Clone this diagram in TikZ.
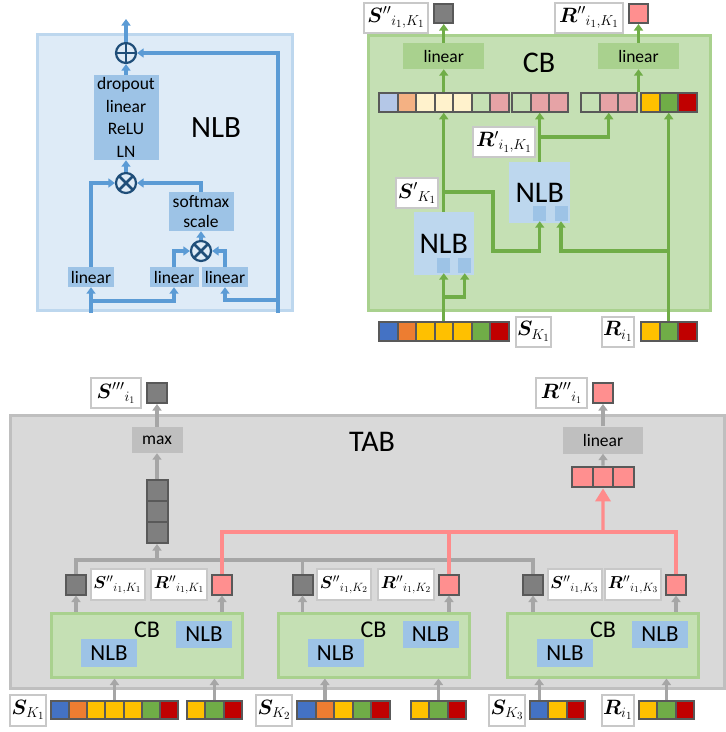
\documentclass[tikz,border=0pt]{standalone}
\usepackage{amsmath,bm}
\usepackage{fontspec}
\setmainfont{Carlito}
\usetikzlibrary{arrows.meta,positioning}
\definecolor{nlbFill}{RGB}{222,235,247}
\definecolor{nlbEdge}{RGB}{189,215,238}
\definecolor{blkBlue}{RGB}{157,195,230}
\definecolor{lnBlue}{RGB}{91,155,213}
\definecolor{opEdge}{RGB}{31,78,121}
\definecolor{cbFill}{RGB}{197,224,180}
\definecolor{cbEdge}{RGB}{169,209,142}
\definecolor{lnGreen}{RGB}{112,173,71}
\definecolor{tabFill}{RGB}{217,217,217}
\definecolor{tabEdge}{RGB}{191,191,191}
\definecolor{lnGray}{RGB}{166,166,166}
\definecolor{sqGray}{RGB}{127,127,127}
\definecolor{sqEdge}{RGB}{89,89,89}
\definecolor{lblEdge}{RGB}{200,200,200}
\definecolor{cPink}{RGB}{255,143,143}
\definecolor{lnPink}{RGB}{255,139,139}
\definecolor{pBlue}{RGB}{180,199,231}
\definecolor{pOrange}{RGB}{244,177,131}
\definecolor{pYellow}{RGB}{255,242,204}
\definecolor{pGreen}{RGB}{197,224,180}
\definecolor{pRed}{RGB}{230,163,166}
\definecolor{cBlue}{RGB}{68,114,196}
\definecolor{cOrange}{RGB}{237,125,49}
\definecolor{cYellow}{RGB}{255,192,0}
\definecolor{cGreen}{RGB}{112,173,71}
\definecolor{cRed}{RGB}{192,0,0}
\newcommand{\fsz}[1]{\fontsize{#1}{#1}\selectfont}
\tikzset{
  nlbpan/.style={draw=nlbEdge,fill=nlbFill,line width=3pt,inner sep=0},
  cbpan/.style={draw=cbEdge,fill=cbFill,line width=3pt,inner sep=0},
  tabpan/.style={draw=tabEdge,fill=tabFill,line width=3pt,inner sep=0},
  blk/.style={fill=blkBlue,inner sep=0,align=center,font=\fsz{17.5}},
  glin/.style={fill=cbEdge,inner sep=0,font=\fsz{17.5}},
  gbox/.style={fill=tabEdge,inner sep=0,font=\fsz{17.5}},
  nlbbig/.style={fill=nlbEdge,inner sep=0,font=\fsz{30}},
  nlbsm/.style={fill=blkBlue,inner sep=0,font=\fsz{23},minimum width=56,minimum height=28},
  nsq/.style={fill=blkBlue,inner sep=0,minimum width=13,minimum height=15},
  sq/.style={draw=sqEdge,line width=2pt,inner sep=0},
  gsq/.style={sq,fill=sqGray},
  psq/.style={sq,fill=cPink},
  lbl/.style={draw=lblEdge,fill=white,line width=2pt,inner xsep=1.5pt,inner ysep=1pt,
              minimum height=30},
  opc/.style={circle,draw=opEdge,line width=2.2pt,fill=nlbFill,minimum size=20,inner sep=0},
  plusop/.style={opc,path picture={\draw[opEdge,line width=2.8pt]
      (path picture bounding box.north) -- (path picture bounding box.south)
      (path picture bounding box.west) -- (path picture bounding box.east);}},
  timesop/.style={opc,path picture={\draw[opEdge,line width=2.8pt]
      (path picture bounding box.north west) -- (path picture bounding box.south east)
      (path picture bounding box.north east) -- (path picture bounding box.south west);}},
  barrow/.style={draw=lnBlue,line width=3.3pt,-{Triangle[width=9pt,length=6.5pt]}},
  garrow/.style={draw=lnGreen,line width=3.3pt,-{Triangle[width=9pt,length=6.5pt]}},
  grarrow/.style={draw=lnGray,line width=3.2pt,-{Triangle[width=9pt,length=6.5pt]}},
  gline/.style={draw=lnGray,line width=3.2pt},
  pline/.style={draw=lnPink,line width=3.2pt},
  parrow/.style={pline,-{Triangle[width=15pt,length=13pt]}},
}
% one row of coloured squares: name, left x, centre y, size, colours
\newcommand{\sqrow}[5]{%
  \foreach \clr [count=\n] in {#5}
    \node[sq,minimum size=#4,fill=\clr] (#1-\n) at ({#2+(\n-0.5)*#4},#3) {};
}

\begin{document}
\begin{tikzpicture}[x=1pt,y=-1pt]
  \useasboundingbox (0,0) rectangle (726,732);
  % --- NLB: inner structure ---
  \node[nlbpan,minimum width=255,minimum height=276] (nlbpan) at (164.5,172) {};
  \node[font=\fsz{31}] (nlbttl) at (216,128) {NLB};
  \node[plusop] (plus) at (126,53) {};
  \node[blk,minimum width=65,minimum height=85,font=\fontsize{17.5}{22.5}\selectfont]
      (ffn) at (126,117.5) {dropout\\linear\\ReLU\\LN};
  \node[timesop] (mul1) at (126,183) {};
  \node[blk,minimum width=65,minimum height=39,font=\fontsize{17.5}{20}\selectfont]
      (smax) at (201,211.5) {softmax\\scale};
  \node[timesop] (mul2) at (201,251) {};
  \node[blk,minimum width=46,minimum height=20] (linv) at (91,277) {linear};
  \node[blk,minimum width=49,minimum height=20] (linq) at (174,277) {linear};
  \node[blk,minimum width=46,minimum height=20] (link) at (225,277) {linear};
  \coordinate (nlbout) at (126,19);
  \coordinate (nlbin) at (91,313);
  \coordinate (resin) at (278,313);
  \coordinate (nlbsplit) at (91,301);
  \coordinate (ressplit) at (278,300);
  \draw[barrow] (plus.north) -- (nlbout);
  \draw[barrow] (ffn.north) -- (plus.south);
  \draw[barrow] (mul1.north) -- (ffn.south);
  \draw[barrow] (linv.north) |- (mul1.west);
  \draw[barrow] (smax.north) |- (mul1.east);
  \draw[barrow] (mul2.north) -- (smax.south);
  \draw[barrow] (linq.north) |- (mul2.west);
  \draw[barrow] (link.north) |- (mul2.east);
  \draw[barrow] (nlbin) -- (linv.south);
  \draw[barrow] (nlbsplit) -| (linq.south);
  \draw[barrow] (resin) |- (plus.east);
  \draw[barrow] (ressplit) -| (link.south);

  % --- CB: two NLBs, concat, linear heads ---
  \node[cbpan,minimum width=342,minimum height=275] (cbpan) at (539,172.5) {};
  \node[font=\fsz{30}] (cbttl) at (539,63) {CB};
  \node[glin,minimum width=81,minimum height=26] (lins) at (443.75,56) {linear};
  \node[glin,minimum width=81,minimum height=26] (linr) at (638.5,56) {linear};
  \node[gsq,minimum size=19] (outs) at (443.75,13.5) {};
  \node[psq,minimum size=19] (outr) at (638.5,13.5) {};
  \node[lbl,minimum width=64,font=\fsz{22}] (louts) at (396,17.5) {${\bm{S}''}_{i_1,K_1}$};
  \node[lbl,minimum width=68,font=\fsz{22}] (loutr) at (589,17.5) {${\bm{R}''}_{i_1,K_1}$};
  \sqrow{cat}{379}{102.5}{18.5}{pBlue,pOrange,pYellow,pYellow,pYellow,pGreen,pRed}
  \sqrow{catb}{512}{102.5}{18.5}{pGreen,pRed,pRed}
  \sqrow{catc}{581}{102.5}{18.5}{pGreen,pRed,pRed}
  \sqrow{catd}{641}{102.5}{18.5}{cYellow,cGreen,cRed}
  \node[nlbbig,minimum width=60,minimum height=63] (nlbs) at (443.75,243.5) {NLB};
  \node[nsq] (nlbsa) at (443.75,265.5) {};
  \node[nsq] (nlbsb) at (464.75,265.5) {};
  \node[nlbbig,minimum width=61,minimum height=61] (nlbr) at (539.75,192.5) {NLB};
  \node[nsq] (nlbra) at (539.75,213.5) {};
  \node[nsq] (nlbrb) at (561,213.5) {};
  \node[lbl,minimum width=42,font=\fsz{22}] (lsp) at (417,193) {${\bm{S}'}_{K_1}$};
  \node[lbl,minimum width=62,font=\fsz{22}] (lrp) at (504,142) {${\bm{R}'}_{i_1,K_1}$};
  \sqrow{skin}{379}{331.5}{18.5}{cBlue,cOrange,cYellow,cYellow,cYellow,cGreen,cRed}
  \sqrow{riin}{641}{331.5}{18.5}{cYellow,cGreen,cRed}
  \node[lbl,right=5pt of skin-7,font=\fsz{22}] (lskin) {$\bm{S}_{K_1}$};
  \node[lbl,left=5pt of riin-1,font=\fsz{22}] (lriin) {$\bm{R}_{i_1}$};
  \coordinate (skfork) at (443.75,297);
  \coordinate (spfork) at (443.75,192);
  \coordinate (spbend) at (493,251);
  \coordinate (rpfork) at (539.75,137);
  \coordinate (rifork) at (668.75,251);
  \draw[garrow] (skin-4.north) -- (nlbsa.south);
  \draw[garrow] (skfork) -| (nlbsb.south);
  \draw[garrow] (nlbs.north) -- (cat-4.south);
  \draw[garrow] (spfork) -| (spbend) -| (nlbra.south);
  \draw[garrow] (nlbr.north) -- (catb-2.south);
  \draw[garrow] (rpfork) -| (catc-2.south);
  \draw[garrow] (riin-2.north) -- (catd-2.south);
  \draw[garrow] (rifork) -| (nlbrb.south);
  \draw[garrow] (cat-4.north) -- (lins.south);
  \draw[garrow] (lins.north) -- (outs.south);
  \draw[garrow] (linr.south |- catd-1.north) -- (linr.south);
  \draw[garrow] (linr.north) -- (outr.south);

  % --- TAB: three CBs, max over S'', linear over R'' ---
  \node[tabpan,minimum width=714,minimum height=273] (tabpan) at (367,551.5) {};
  \node[font=\fsz{30}] (tabttl) at (372,442) {TAB};
  \node[gbox,minimum width=51,minimum height=26] (maxb) at (157,440) {max};
  \node[gsq,minimum size=20] (souts3) at (157,393) {};
  \node[lbl,minimum width=50,left=4pt of souts3,font=\fsz{20}] (lsouts3) {${\bm{S}'''}_{i_1}$};
  \foreach \j/\yy in {1/490.5,2/511.5,3/532.5}
    \node[gsq,minimum size=21] (stk\j) at (157,\yy) {};
  \node[gbox,minimum width=80,minimum height=27] (lint) at (603,440) {linear};
  \node[psq,minimum size=20] (outr3) at (603,393) {};
  \node[lbl,minimum width=51,left=4pt of outr3,font=\fsz{20}] (loutr3) {${\bm{R}'''}_{i_1}$};
  \sqrow{rcat}{572}{477}{20.7}{cPink,cPink,cPink}
  \foreach \k/\cx/\sx/\rx in {1/147/76/222,2/373.5/302.5/449,3/603/533/676} {
    \node[cbpan,minimum width=191,minimum height=64] (cb\k) at (\cx,645) {};
    \node[font=\fsz{24}] (cbt\k) at (\cx,630) {CB};
    \node[nlbsm] (nl\k) at ({\cx-38},653) {NLB};
    \node[nlbsm,minimum height=27] (nr\k) at ({\cx+57},634.5) {NLB};
    \node[gsq,minimum size=20] (ss\k) at (\sx,584.5) {};
    \node[psq,minimum size=20] (rs\k) at (\rx,584.5) {};
    \node[lbl,minimum width=54,minimum height=31,right=2.5pt of ss\k,font=\fsz{18}]
        (lss\k) {${\bm{S}''}_{i_1,K_\k}$};
    \node[lbl,minimum width=56,minimum height=31,left=3pt of rs\k,font=\fsz{18}]
        (lrs\k) {${\bm{R}''}_{i_1,K_\k}$};
    \draw[grarrow] (cb\k.north -| ss\k) -- (ss\k.south);
    \draw[grarrow] (cb\k.north -| rs\k) -- (rs\k.south);
  }
  \sqrow{sa}{51}{710}{18.15}{cBlue,cOrange,cYellow,cYellow,cYellow,cGreen,cRed}
  \sqrow{ra}{187}{710}{18.3}{cYellow,cGreen,cRed}
  \sqrow{sb}{297}{710}{18.6}{cBlue,cOrange,cYellow,cGreen,cRed}
  \sqrow{rb}{411}{710}{18.3}{cYellow,cGreen,cRed}
  \sqrow{sc}{530}{710}{18.3}{cBlue,cYellow,cRed}
  \sqrow{rc}{639}{710}{18.3}{cYellow,cGreen,cRed}
  \node[lbl,minimum height=31,left=3pt of sa-1,font=\fsz{22}] (lsa) {$\bm{S}_{K_1}$};
  \node[lbl,minimum height=31,left=3pt of sb-1,font=\fsz{22}] (lsb) {$\bm{S}_{K_2}$};
  \node[lbl,minimum height=31,left=3pt of sc-1,font=\fsz{22}] (lsc) {$\bm{S}_{K_3}$};
  \node[lbl,minimum height=31,left=3pt of rc-1,font=\fsz{22}] (lrc) {$\bm{R}_{i_1}$};
  \draw[grarrow] (sa-4.north) -- (sa-4.north |- cb1.south);
  \draw[grarrow] (ra-2.north) -- (ra-2.north |- cb1.south);
  \draw[grarrow] (sb-2.north) -- (sb-2.north |- cb2.south);
  \draw[grarrow] (rb-2.north) -- (rb-2.north |- cb2.south);
  \draw[grarrow] (sc-1.north) -- (sc-1.north |- cb3.south);
  \draw[grarrow] (rc-2.north) -- (rc-2.north |- cb3.south);
  \coordinate (gbus) at (157,560);
  \coordinate (pbus) at (603,532);
  \draw[gline] (ss1.north) |- (gbus) -| (ss3.north);
  \draw[gline] (ss2.north) -- (ss2.north |- gbus);
  \draw[grarrow] (gbus) -- (stk3.south);
  \draw[grarrow] (stk1.north) -- (maxb.south);
  \draw[grarrow] (maxb.north) -- (souts3.south);
  \draw[pline] (rs1.north) |- (pbus) -| (rs3.north);
  \draw[pline] (rs2.north) -- (rs2.north |- pbus);
  \draw[parrow] (pbus) -- (rcat-2.south);
  \draw[grarrow] (rcat-2.north) -- (lint.south);
  \draw[grarrow] (lint.north) -- (outr3.south);
\end{tikzpicture}
\end{document}
